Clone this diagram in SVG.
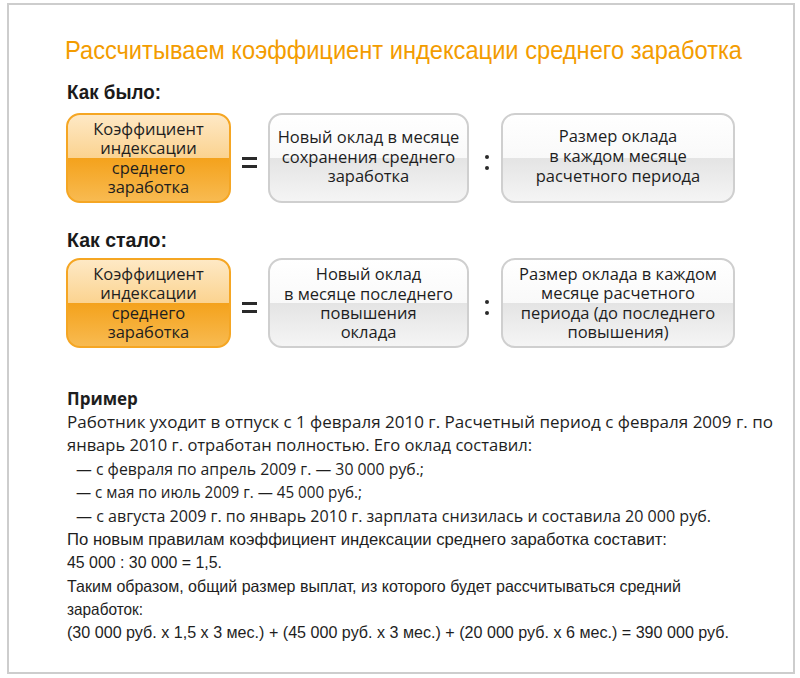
<svg xmlns="http://www.w3.org/2000/svg" width="800" height="678" viewBox="0 0 800 678">
<defs>
<linearGradient id="orTop" x1="0" y1="0" x2="0" y2="1"><stop offset="0" stop-color="#fee9c6"/><stop offset="1" stop-color="#fbd390"/></linearGradient>
<linearGradient id="orBot" x1="0" y1="0" x2="0" y2="1"><stop offset="0" stop-color="#f4a21c"/><stop offset="1" stop-color="#f8bb52"/></linearGradient>
<linearGradient id="grTop" x1="0" y1="0" x2="0" y2="1"><stop offset="0" stop-color="#ffffff"/><stop offset="1" stop-color="#f9f9f9"/></linearGradient>
<linearGradient id="grBot" x1="0" y1="0" x2="0" y2="1"><stop offset="0" stop-color="#e4e4e4"/><stop offset="1" stop-color="#f5f5f5"/></linearGradient>
<clipPath id="c1"><rect x="67" y="114" width="163" height="88" rx="13"/></clipPath>
<clipPath id="c2"><rect x="269" y="114" width="199" height="88" rx="13"/></clipPath>
<clipPath id="c3"><rect x="502" y="114" width="232" height="88" rx="13"/></clipPath>
<clipPath id="c4"><rect x="67" y="259" width="163" height="88" rx="13"/></clipPath>
<clipPath id="c5"><rect x="269" y="259" width="199" height="88" rx="13"/></clipPath>
<clipPath id="c6"><rect x="502" y="259" width="232" height="88" rx="13"/></clipPath>
</defs>
<style>
.frame{fill:#fff;stroke:#cdcdcd;stroke-width:2}
.title{font-family:"Liberation Sans Narrow","Liberation Sans",sans-serif;font-size:25px;fill:#f39c00}
.head{font-family:"Liberation Sans Narrow","Liberation Sans",sans-serif;font-size:20px;font-weight:bold;fill:#1a1a1a}
.bx{font-family:"Open Sans","Noto Sans",sans-serif;font-size:16.5px;fill:#1e1e1e;text-anchor:middle}
.ob{fill:none;stroke:#f5a623;stroke-width:2}
.gb{fill:none;stroke:#cfcfcf;stroke-width:2}
.op{fill:#2a2a2a}
.body{font-family:"Open Sans","Noto Sans",sans-serif;font-size:15.5px;fill:#1e1e1e}
.cond{font-family:"Liberation Sans Narrow","Liberation Sans",sans-serif;font-size:16.5px;fill:#1e1e1e}
.bold{font-family:"Open Sans","Noto Sans",sans-serif;font-size:17px;font-weight:bold;fill:#1e1e1e}
</style>
<rect class="frame" x="8" y="4" width="786" height="669"/>
<text class="title" x="65" y="59" textLength="677" lengthAdjust="spacingAndGlyphs">Рассчитываем коэффициент индексации среднего заработка</text>
<text class="head" x="67" y="99" textLength="94" lengthAdjust="spacingAndGlyphs">Как было:</text>
<text class="head" x="67" y="247" textLength="100" lengthAdjust="spacingAndGlyphs">Как стало:</text>

<g id="node-r1-coef">
<g clip-path="url(#c1)"><rect x="67" y="114" width="163" height="44" fill="url(#orTop)"/><rect x="67" y="158" width="163" height="44" fill="url(#orBot)"/></g>
<rect class="ob" x="67" y="114" width="163" height="88" rx="13"/>
<text class="bx" x="148.5" y="135">Коэффициент</text>
<text class="bx" x="148.5" y="154">индексации</text>
<text class="bx" x="148.5" y="174">среднего</text>
<text class="bx" x="148.5" y="193">заработка</text>
</g>
<g id="node-r1-new">
<g clip-path="url(#c2)"><rect x="269" y="114" width="199" height="44" fill="url(#grTop)"/><rect x="269" y="158" width="199" height="44" fill="url(#grBot)"/></g>
<rect class="gb" x="269" y="114" width="199" height="88" rx="13"/>
<text class="bx" x="368.5" y="143">Новый оклад в месяце</text>
<text class="bx" x="368.5" y="163">сохранения среднего</text>
<text class="bx" x="368.5" y="182">заработка</text>
</g>
<g id="node-r1-size">
<g clip-path="url(#c3)"><rect x="502" y="114" width="232" height="44" fill="url(#grTop)"/><rect x="502" y="158" width="232" height="44" fill="url(#grBot)"/></g>
<rect class="gb" x="502" y="114" width="232" height="88" rx="13"/>
<text class="bx" x="618" y="142">Размер оклада</text>
<text class="bx" x="618" y="162">в каждом месяце</text>
<text class="bx" x="618" y="182">расчетного периода</text>
</g>

<g id="node-r2-coef">
<g clip-path="url(#c4)"><rect x="67" y="259" width="163" height="44" fill="url(#orTop)"/><rect x="67" y="303" width="163" height="44" fill="url(#orBot)"/></g>
<rect class="ob" x="67" y="259" width="163" height="88" rx="13"/>
<text class="bx" x="148.5" y="280">Коэффициент</text>
<text class="bx" x="148.5" y="299">индексации</text>
<text class="bx" x="148.5" y="319">среднего</text>
<text class="bx" x="148.5" y="338">заработка</text>
</g>
<g id="node-r2-new">
<g clip-path="url(#c5)"><rect x="269" y="259" width="199" height="44" fill="url(#grTop)"/><rect x="269" y="303" width="199" height="44" fill="url(#grBot)"/></g>
<rect class="gb" x="269" y="259" width="199" height="88" rx="13"/>
<text class="bx" x="368.5" y="280">Новый оклад</text>
<text class="bx" x="368.5" y="300">в месяце последнего</text>
<text class="bx" x="368.5" y="319">повышения</text>
<text class="bx" x="368.5" y="338">оклада</text>
</g>
<g id="node-r2-size">
<g clip-path="url(#c6)"><rect x="502" y="259" width="232" height="44" fill="url(#grTop)"/><rect x="502" y="303" width="232" height="44" fill="url(#grBot)"/></g>
<rect class="gb" x="502" y="259" width="232" height="88" rx="13"/>
<text class="bx" x="618" y="280">Размер оклада в каждом</text>
<text class="bx" x="618" y="299">месяце расчетного</text>
<text class="bx" x="618" y="319">периода (до последнего</text>
<text class="bx" x="618" y="338">повышения)</text>
</g>

<g id="connectors">
<rect class="op" x="242" y="157" width="15" height="3"/>
<rect class="op" x="242" y="165" width="15" height="3"/>
<circle class="op" cx="487" cy="157" r="2"/>
<circle class="op" cx="487" cy="168" r="2"/>
<rect class="op" x="242" y="302" width="15" height="3"/>
<rect class="op" x="242" y="310" width="15" height="3"/>
<circle class="op" cx="487" cy="302" r="2"/>
<circle class="op" cx="487" cy="313" r="2"/>
</g>

<text class="bold" x="67" y="405">Пример</text>
<text class="body" x="67" y="428" textLength="706" lengthAdjust="spacingAndGlyphs">Работник уходит в отпуск с 1 февраля 2010 г. Расчетный период с февраля 2009 г. по</text>
<text class="body" x="67" y="451" textLength="465" lengthAdjust="spacingAndGlyphs">январь 2010 г. отработан полностью. Его оклад составил:</text>
<text class="body" x="76" y="475" textLength="348" lengthAdjust="spacingAndGlyphs">— с февраля по апрель 2009 г. — 30 000 руб.;</text>
<text class="body" x="76" y="498" textLength="286" lengthAdjust="spacingAndGlyphs">— с мая по июль 2009 г. — 45 000 руб.;</text>
<text class="body" x="76" y="522" textLength="635" lengthAdjust="spacingAndGlyphs">— с августа 2009 г. по январь 2010 г. зарплата снизилась и составила 20 000 руб.</text>
<text class="cond" x="67" y="545" textLength="600" lengthAdjust="spacingAndGlyphs">По новым правилам коэффициент индексации среднего заработка составит:</text>
<text class="cond" x="67" y="568" textLength="155" lengthAdjust="spacingAndGlyphs">45 000 : 30 000 = 1,5.</text>
<text class="cond" x="67" y="592" textLength="614" lengthAdjust="spacingAndGlyphs">Таким образом, общий размер выплат, из которого будет рассчитываться средний</text>
<text class="cond" x="67" y="615" textLength="76" lengthAdjust="spacingAndGlyphs">заработок:</text>
<text class="cond" x="67" y="638" textLength="662" lengthAdjust="spacingAndGlyphs">(30 000 руб. х 1,5 х 3 мес.) + (45 000 руб. х 3 мес.) + (20 000 руб. х 6 мес.) = 390 000 руб.</text>
</svg>
